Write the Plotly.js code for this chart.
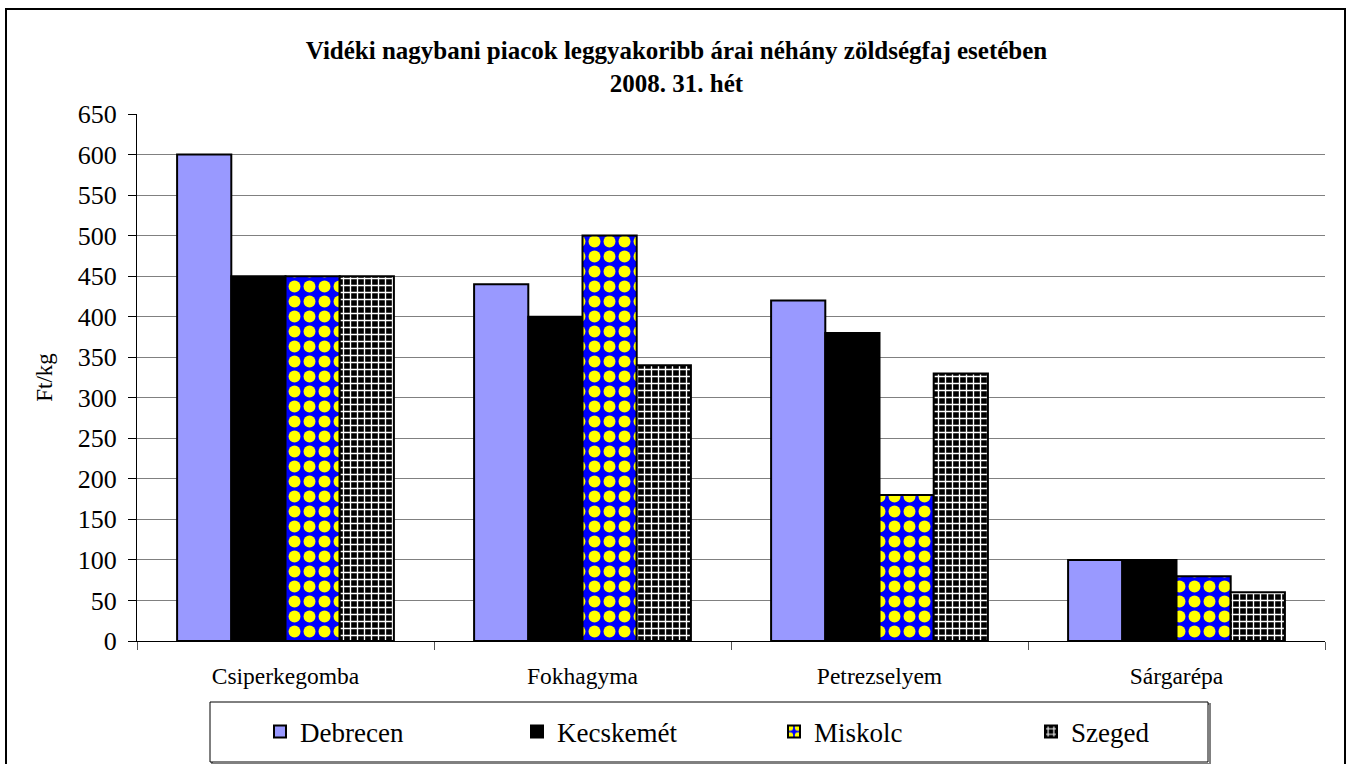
<!DOCTYPE html>
<html>
<head>
<meta charset="utf-8">
<script src="https://cdn.plot.ly/plotly-3.0.1.min.js"></script>
<style>html,body{margin:0;padding:0;background:#fff;}#chart{width:1353px;height:764px;}</style>
</head>
<body>
<div id="chart"></div>
<script>
const categories = ["Csiperkegomba", "Fokhagyma", "Petrezselyem", "Sárgarépa"];
const debrecen = [600, 440, 420, 100];
const kecskemet = [450, 400, 380, 100];
const miskolc = [450, 500, 180, 80];
const szeged = [450, 340, 330, 60];
const seriesNames = ["Debrecen", "Kecskemét", "Miskolc", "Szeged"];
const yTicks = [0, 50, 100, 150, 200, 250, 300, 350, 400, 450, 500, 550, 600, 650];

const FONT = "Liberation Serif, Times New Roman, serif";
const outline = {color: "#000000", width: 2};

const traces = [
  {type: "bar", name: seriesNames[0], x: categories, y: debrecen,
   marker: {color: "#9999FF", line: outline}},
  {type: "bar", name: seriesNames[1], x: categories, y: kecskemet,
   marker: {color: "#000000", line: outline}},
  {type: "bar", name: seriesNames[2], x: categories, y: miskolc,
   marker: {color: "#0000FF", line: outline,
     pattern: {shape: ".", bgcolor: "#0000FF", fgcolor: "#FFFF00", size: 15, solidity: 0.5, fillmode: "replace"}}},
  {type: "bar", name: seriesNames[3], x: categories, y: szeged,
   marker: {color: "#000000", line: outline,
     pattern: {shape: "+", bgcolor: "#000000", fgcolor: "#FFFFFF", size: 7, solidity: 0.35, fillmode: "replace"}}}
];

const L = 137, R = 28, T = 114, B = 123;
const PW = 1353 - L - R, PH = 764 - T - B;
const px = v => (v - L) / PW;
const py = v => (764 - B - v) / PH;

const layout = {
  width: 1353, height: 764,
  margin: {l: L, r: R, t: T, b: B, pad: 0, autoexpand: false},
  paper_bgcolor: "#FFFFFF", plot_bgcolor: "#FFFFFF",
  font: {family: FONT, color: "#000000", size: 23},
  barmode: "group", bargap: 0.27, bargroupgap: 0,
  showlegend: true,
  title: {
    text: "<b>Vidéki nagybani piacok leggyakoribb árai néhány zöldségfaj esetében<br>2008. 31. hét</b>",
    font: {family: FONT, size: 25, color: "#000000"},
    xref: "container", x: 0.5, xanchor: "center",
    yref: "container", y: (764 - 59) / 764, yanchor: "top"
  },
  xaxis: {
    type: "category", showgrid: false, zeroline: false, automargin: false,
    showline: true, linecolor: "#000000", linewidth: 1,
    ticks: "outside", tickson: "boundaries", ticklen: 8, tickcolor: "#555555",
    tickfont: {family: FONT, size: 23.5}, ticklabelstandoff: 14
  },
  yaxis: {
    range: [0, 650], tickvals: yTicks, ticktext: yTicks.map(String), automargin: false,
    showgrid: true, gridcolor: "#808080", gridwidth: 1, zeroline: false,
    showline: true, linecolor: "#000000", linewidth: 1,
    ticks: "outside", ticklen: 8, tickcolor: "#000000",
    tickfont: {family: FONT, size: 26}, ticklabelstandoff: 6,
    title: {text: "Ft/kg", font: {family: FONT, size: 23}, standoff: 18}
  },
  legend: {
    orientation: "h", x: px(260), xanchor: "left", y: py(732), yanchor: "middle",
    bgcolor: "rgba(0,0,0,0)", borderwidth: 0,
    font: {family: FONT, size: 27}, entrywidth: 212, entrywidthmode: "pixels",
    traceorder: "normal"
  },
  shapes: [
    {type: "rect", xref: "paper", yref: "paper", x0: px(6), x1: px(1345), y0: py(770), y1: py(9),
     line: {color: "#000000", width: 2}, fillcolor: "rgba(0,0,0,0)", layer: "below"},
    {type: "rect", xref: "paper", yref: "paper", x0: px(212), x1: px(1210), y0: py(764), y1: py(704),
     line: {color: "#808080", width: 2}, fillcolor: "rgba(0,0,0,0)", layer: "below"},
    {type: "rect", xref: "paper", yref: "paper", x0: px(210), x1: px(1208), y0: py(762), y1: py(702),
     line: {color: "#000000", width: 1}, fillcolor: "#FFFFFF", layer: "below"}
  ]
};

Plotly.newPlot("chart", traces, layout, {displayModeBar: false, staticPlot: true});
</script>
</body>
</html>
